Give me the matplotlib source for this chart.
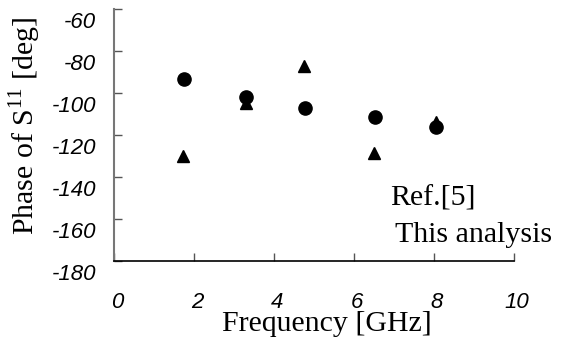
import numpy as np
import matplotlib
matplotlib.use("Agg")
import matplotlib.pyplot as plt
import matplotlib.transforms as mtransforms

# --- data
freq_this  = [1.76, 3.29, 4.78, 6.53, 8.04]
phase_this = [-93.5, -102.0, -107.0, -111.6, -116.3]

freq_ref   = [1.73, 3.29, 4.75, 6.50, 8.04]
phase_ref  = [-130.0, -104.9, -87.0, -128.7, -113.7]

xticks = [0, 2, 4, 6, 8, 10]
yticks = [-180, -160, -140, -120, -100, -80, -60]

serif = "Liberation Serif"
tickfont = dict(family="Liberation Sans", style="italic", size=16)

fig = plt.figure(figsize=(5.71, 3.45), dpi=100)
ax = fig.add_axes([0.1996, 0.2435, 0.7006, 0.7304])

ax.plot(freq_this, phase_this, "o", color="black", markersize=9.5, zorder=3)
ax.plot(freq_ref, phase_ref, "^", color="black", markersize=8, zorder=3)

ax.set_xlim(0, 10)
ax.set_ylim(-180, -60)

ax.spines["top"].set_visible(False)
ax.spines["right"].set_visible(False)
ax.spines["left"].set_color("#777777")
ax.spines["left"].set_linewidth(1.5)
ax.spines["bottom"].set_linewidth(1.2)

ax.set_xticks(xticks)
ax.set_yticks(yticks)
ax.set_xticklabels([str(v) for v in xticks], fontdict=tickfont)
ax.set_yticklabels([str(v) for v in yticks], fontdict=tickfont)
ax.tick_params(axis="both", direction="in", length=6, width=1.0, color="#555555")
ax.tick_params(axis="y", pad=13)
ax.tick_params(axis="x", pad=22)

# tick labels sit a little lower than their ticks
off_y = mtransforms.ScaledTranslation(0, -11 / 100, fig.dpi_scale_trans)
for lab in ax.get_yticklabels():
    lab.set_transform(lab.get_transform() + off_y)
off_x = mtransforms.ScaledTranslation(3 / 100, 0, fig.dpi_scale_trans)
for lab in ax.get_xticklabels():
    lab.set_transform(lab.get_transform() + off_x)

ax.set_xlabel("Frequency [GHz]", family=serif, size=21.5)
ax.xaxis.set_label_coords(0.5325, -0.2)
ax.set_ylabel(r"Phase of S$^{\mathregular{11}}$ [deg]", family=serif, size=21.5)
ax.yaxis.set_label_coords(-0.178, 0.535)

# legend entries are plain text in the reference
ax.text(0.69, 0.222, "Ref.[5]", transform=ax.transAxes, family=serif, size=21.5)
ax.text(0.7025, 0.075, "This analysis", transform=ax.transAxes, family=serif, size=21.5)

fig.savefig("out.png", dpi=100)
